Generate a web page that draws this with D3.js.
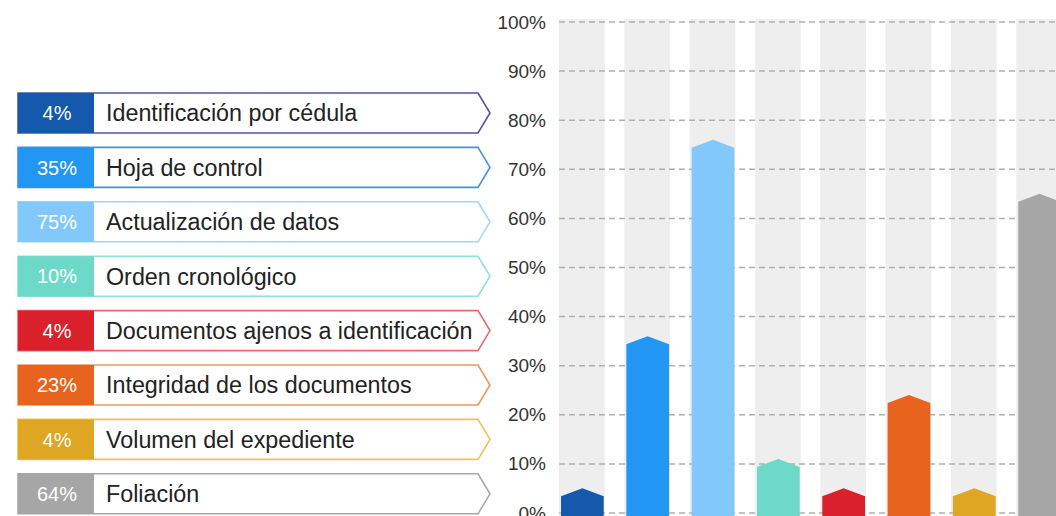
<html>
<head>
<meta charset="utf-8">
<title>chart</title>
<style>
  body { margin: 0; background: #fff; }
  svg { display: block; font-family: "Liberation Sans", Arial, sans-serif; }
</style>
</head>
<body>
<script src="https://d3js.org/d3.v7.min.js"></script>
<script>
var categories = ['Identificación por cédula', 'Hoja de control', 'Actualización de datos',
  'Orden cronológico', 'Documentos ajenos a identificación', 'Integridad de los documentos',
  'Volumen del expediente', 'Foliación'];
var values = [4, 35, 75, 10, 4, 23, 4, 64];
var yTicks = [0, 10, 20, 30, 40, 50, 60, 70, 80, 90, 100];

var fills = ['#1559ad', '#2196f3', '#82c8fa', '#6cd9c9', '#d9202b', '#e8631e', '#dea622', '#a6a6a6'];
var outlines = ['#54549e', '#4a8fd8', '#a3d5f8', '#8fe0d5', '#e8676e', '#f2955c', '#eec350', '#a8a8a8'];

var width = 1056, height = 516;
var svg = d3.select('body').append('svg')
  .attr('width', width)
  .attr('height', height);

// ---- bar chart on the right ----
var x = d3.scaleBand()
  .domain(categories)
  .range([559, 1062])
  .paddingInner(0.3)
  .paddingOuter(0);

var y = d3.scaleLinear()
  .domain([0, 100])
  .range([513, 22]);

// gray background columns
svg.append('g').selectAll('rect')
  .data(categories)
  .enter().append('rect')
  .attr('x', function(d){ return x(d); })
  .attr('y', y(100) - 3)
  .attr('width', x.bandwidth())
  .attr('height', height - y(100) + 3)
  .attr('fill', '#eeeeee');

// dashed grid
svg.append('g').selectAll('line')
  .data(yTicks)
  .enter().append('line')
  .attr('x1', 559)
  .attr('x2', width)
  .attr('y1', function(d){ return y(d); })
  .attr('y2', function(d){ return y(d); })
  .attr('stroke', '#b0b0b0')
  .attr('stroke-width', 1.5)
  .attr('stroke-dasharray', '6,4');

// y axis labels
var yAxis = d3.axisLeft(y)
  .tickValues(yTicks)
  .tickFormat(function(d){ return d + '%'; })
  .tickSize(0)
  .tickPadding(0);

var gy = svg.append('g')
  .attr('transform', 'translate(546,0)')
  .call(yAxis);
gy.select('.domain').remove();
gy.selectAll('text')
  .attr('font-size', 19)
  .attr('fill', '#333')
  .attr('font-family', '"Liberation Sans", Arial, sans-serif');

// bars with pointed top
var peak = 8;
svg.append('g').selectAll('path')
  .data(values)
  .enter().append('path')
  .attr('fill', function(d, i){ return fills[i]; })
  .attr('d', function(d, i){
    var x0 = x(categories[i]) + 2, w = x.bandwidth() - 3;
    var ys = y(d) + 3;
    return 'M' + x0 + ',' + height +
      'L' + x0 + ',' + ys +
      'L' + (x0 + w / 2) + ',' + (ys - peak) +
      'L' + (x0 + w) + ',' + ys +
      'L' + (x0 + w) + ',' + height + 'Z';
  });

// ---- legend on the left ----
var rowY = d3.scaleBand()
  .domain(categories)
  .range([93, 93 + 7 * 54.4 + 40])
  .paddingInner(1 - 40 / 54.4)
  .paddingOuter(0);

var rows = svg.append('g').selectAll('g')
  .data(categories)
  .enter().append('g')
  .attr('transform', function(d){ return 'translate(18,' + rowY(d) + ')'; });

var rh = rowY.bandwidth();
rows.append('path')
  .attr('d', 'M0,0 L460,0 L472,' + rh / 2 + ' L460,' + rh + ' L0,' + rh + ' Z')
  .attr('fill', '#fff')
  .attr('stroke', function(d, i){ return outlines[i]; })
  .attr('stroke-width', 1.6);

rows.append('rect')
  .attr('x', 0)
  .attr('y', 0)
  .attr('width', 76)
  .attr('height', rh)
  .attr('fill', function(d, i){ return fills[i]; });

rows.append('text')
  .attr('x', 39)
  .attr('y', rh / 2)
  .attr('dy', '0.36em')
  .attr('text-anchor', 'middle')
  .attr('font-size', 20)
  .attr('fill', '#fff')
  .text(function(d, i){ return values[i] + '%'; });

rows.append('text')
  .attr('x', 88)
  .attr('y', rh / 2)
  .attr('dy', '0.36em')
  .attr('font-size', 23.3)
  .attr('fill', '#222')
  .text(function(d){ return d; });
</script>
</body>
</html>
